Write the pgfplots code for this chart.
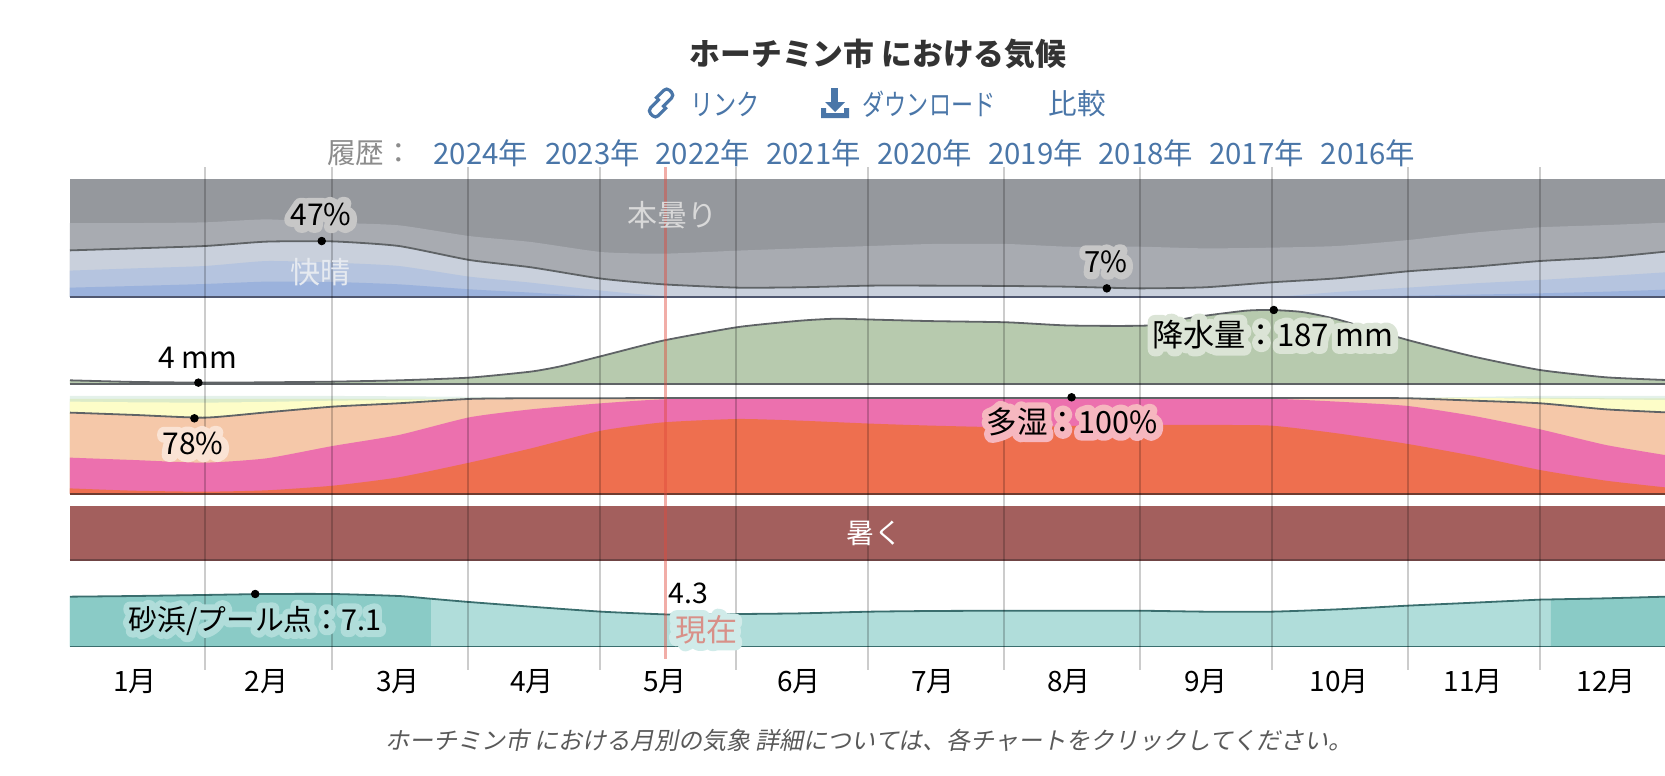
\documentclass[border=0pt]{standalone}
\usepackage{fontspec}
\usepackage{graphicx}
\setmainfont{Noto Sans CJK JP}
\newfontfamily\capfont[FakeSlant=0.2]{Noto Sans CJK JP}
\usepackage{pgfplots}
\usepackage{pgfplotstable}
\pgfplotsset{compat=1.18}

\definecolor{overcast}{HTML}{95989D}
\definecolor{mcloudy}{HTML}{A8ABB1}
\definecolor{pcloudy}{HTML}{C9D0DC}
\definecolor{mclear}{HTML}{B5C4DF}
\definecolor{clear}{HTML}{9BB2DC}
\definecolor{cloudbase}{HTML}{505870}
\definecolor{rainfill}{HTML}{B7CAAE}
\definecolor{misery}{HTML}{EE6F4F}
\definecolor{oppress}{HTML}{EC70AE}
\definecolor{muggy}{HTML}{F5C8A9}
\definecolor{comfy}{HTML}{FDFDC8}
\definecolor{dryish}{HTML}{DCEBC8}
\definecolor{dry}{HTML}{E4F1EA}
\definecolor{humidbase}{HTML}{703C30}
\definecolor{hot}{HTML}{A35F5D}
\definecolor{hotbase}{HTML}{6F4444}
\definecolor{beachhi}{HTML}{8ACBC6}
\definecolor{beachlo}{HTML}{B0DDDA}
\definecolor{beachline}{HTML}{3A6E6E}
\definecolor{linkblue}{HTML}{4A76A8}
\definecolor{curve}{HTML}{5F6366}
\definecolor{nowred}{HTML}{E04A3C}
\definecolor{nowtext}{HTML}{D89088}
\definecolor{clearword}{HTML}{E6EAF0}

% day of year, then the upper edge of each band
\pgfplotstableread{
d     clear mclr  line top
0.36  7.9   22.3  39.4 62.5
15    9.3   24.2  41.1 62.5
31    11.0  26.2  43.1 63.1
45    13.0  30.4  46.8 65.6
60    12.7  29.0  47.0 62.8
75    10.7  26.2  43.1 60.6
91    6.5   17.2  31.3 51.5
105   3.7   12.1  25.1 46.5
121   0.3   5.4   15.5 38.0
135   0     0.8   10.7 36.6
152   0     0     7.9  39.2
166   0     0     8.2  41.1
182   0     0     9.6  43.1
196   0     0     9.6  44.8
213   0     0     9.3  44.8
227   0     0     8.7  42.5
243   0     0     7.3  42.5
258   0     0     8.2  41.1
273   0     0     12.4 41.7
288   0     4.2   15.8 43.1
304   1.1   7.9   21.7 48.1
319   2.0   11.5  25.6 54.4
334   3.1   14.4  30.4 58.9
349   4.5   17.7  33.5 60.8
362.4 6.2   20.8  38.3 62.8
}\cloud

\pgfplotstableread{
d     mm
0.36  10.0
15    5.9
31    4.2
45    5.0
60    6.7
75    10.0
91    16.8
105   32.0
112   46.0
121   71.0
135   110.0
152   144.0
166   160.0
174   165.0
182   163.0
196   159.0
213   156.0
227   148.0
245   148.0
255   168.0
267   185.0
273   187.0
280   182.0
288   163.5
304   111.5
319   69.6
334   36.0
349   17.6
362.4 10.9
}\rain

\pgfplotstableread{
d     misery opp   line  comfy dryish dry
0.36  5.5    37.4  84.1  95.5  98.3   101.4
15    3.1    34.9  81.7  94.8  98.3   101.4
31    2.1    32.2  78.9  94.5  98.3   101.4
45    3.5    36.7  84.4  95.2  98.3   101.4
60    8.3    49.5  90.3  96.5  98.3   101.4
75    17.0   60.9  93.8  97.2  98.3   101.0
91    32.2   79.2  98.3  98.6  98.6   100.5
105   47.0   87.5  99.0  99.2  99.2   99.5
121   65.4   93.8  99.0  99.2  99.2   99.5
135   74.0   97.9  99.3  99.3  99.3   99.5
152   77.5   98.6  99.3  99.3  99.3   99.5
166   75.8   98.6  99.3  99.3  99.3   99.5
182   72.7   98.6  99.3  99.3  99.3   99.5
196   70.6   98.6  99.3  99.3  99.3   99.5
213   68.9   98.6  99.3  99.3  99.3   99.5
227   70.2   98.6  99.3  99.3  99.3   99.5
243   71.3   98.6  99.3  99.3  99.3   99.5
258   71.3   98.6  99.3  99.3  99.3   99.5
273   70.6   98.6  99.3  99.3  99.3   99.5
288   62.6   95.5  99.3  99.3  99.3   99.5
304   51.6   91.0  99.0  99.2  99.3   99.5
319   39.1   80.6  96.5  99.3  99.5   100.5
334   24.6   66.8  93.8  98.6  99.5   101.4
349   13.5   50.5  87.5  97.9  99.0   101.4
362.4 6.6    40.1  84.4  97.2  98.8   101.4
}\humid

\pgfplotstableread{
d     score
0.36  6.74
15    6.83
31    6.97
45    7.10
60    7.10
75    6.83
82.3  6.46
91    6.02
105   5.39
121   4.72
135   4.36
141   4.31
152   4.40
166   4.49
182   4.72
196   4.81
213   4.85
227   4.85
243   4.85
258   4.72
273   4.72
288   5.03
304   5.53
319   5.93
334   6.34
336.5 6.37
349   6.52
362.4 6.74
}\beach

\pgfplotsset{
  panel/.style={
    scale only axis, hide axis, clip=false,
    width=797.5pt, xmin=0.36, xmax=362.4,
    anchor=south west,
  },
  dot/.style={only marks, mark=*, mark size=1.9pt, mark options={fill=black, draw=black}},
  curveline/.style={draw=curve, line width=0.9pt, smooth, tension=0.35},
  band/.style={draw=none, fill=#1, smooth, tension=0.35},
}

% text over a thick copy of itself, round joins so the copy has no spikes
\newcommand{\halo}[3][black]{\special{pdf:code 1 j 1 J}\makebox[0pt][c]{\addfontfeature{FakeBold=45}\color{#2}#3}\special{pdf:code 0 j 0 J}\makebox[0pt][c]{\color{#1}#3}}
\newcommand{\fs}[1]{\fontsize{#1}{#1}\selectfont}

\begin{document}
\begin{tikzpicture}[x=1pt,y=1pt]
\useasboundingbox (0,0) rectangle (832.5,388);

% cloud cover
\begin{axis}[panel, at={(35pt,239.5pt)}, height=59.15pt, ymin=0, ymax=100]
  \addplot[draw=none, fill=overcast] coordinates {(0.36,100)(362.4,100)} \closedcycle;
  \addplot[band=mcloudy] table[x=d,y=top]{\cloud} \closedcycle;
  \addplot[band=pcloudy] table[x=d,y=line]{\cloud} \closedcycle;
  \addplot[band=mclear] table[x=d,y=mclr]{\cloud} \closedcycle;
  \addplot[band=clear] table[x=d,y=clear]{\cloud} \closedcycle;
  \addplot[curveline] table[x=d,y=line]{\cloud};
  \addplot[draw=cloudbase, line width=0.9pt] coordinates {(0.36,0)(362.4,0)};
  \addplot[dot] coordinates {(57.5,47.3)(235.7,7.3)};
\end{axis}

% precipitation
\begin{axis}[panel, at={(35pt,195.85pt)}, height=37.15pt, ymin=0, ymax=187]
  \addplot[band=rainfill] table[x=d,y=mm]{\rain} \closedcycle;
  \addplot[curveline] table[x=d,y=mm]{\rain};
  \addplot[draw=curve, line width=0.9pt] coordinates {(0.36,0)(362.4,0)};
  \addplot[dot] coordinates {(29.5,4.2)(273.6,187)};
\end{axis}

% humidity
\begin{axis}[panel, at={(35pt,141.15pt)}, height=48.2pt, ymin=0, ymax=100]
  \addplot[band=dry] table[x=d,y=dry]{\humid} \closedcycle;
  \addplot[band=dryish] table[x=d,y=dryish]{\humid} \closedcycle;
  \addplot[band=comfy] table[x=d,y=comfy]{\humid} \closedcycle;
  \addplot[band=muggy] table[x=d,y=line]{\humid} \closedcycle;
  \addplot[band=oppress] table[x=d,y=opp]{\humid} \closedcycle;
  \addplot[band=misery] table[x=d,y=misery]{\humid} \closedcycle;
  \addplot[curveline] table[x=d,y=line]{\humid};
  \addplot[draw=humidbase, line width=0.9pt] coordinates {(0.36,0)(362.4,0)};
  \addplot[dot] coordinates {(28.6,78.2)(227.7,100)};
\end{axis}

% temperature
\begin{axis}[panel, at={(35pt,108pt)}, height=27pt, ymin=0, ymax=1]
  \addplot[draw=none, fill=hot] coordinates {(0.36,1)(362.4,1)} \closedcycle;
  \addplot[draw=hotbase, line width=0.8pt] coordinates {(0.36,0)(362.4,0)};
\end{axis}

% beach and pool score
\begin{axis}[panel, at={(35pt,64.65pt)}, height=26.35pt, ymin=0, ymax=7.1]
  \addplot[band=beachlo] table[x=d,y=score]{\beach} \closedcycle;
  \addplot[band=beachhi] table[x=d,y=score, restrict x to domain=0:82.3]{\beach} \closedcycle;
  \addplot[band=beachhi] table[x=d,y=score, restrict x to domain=336.5:363]{\beach} \closedcycle;
  \addplot[draw=beachline, line width=0.9pt, smooth, tension=0.35] table[x=d,y=score]{\beach};
  \addplot[draw=beachline, line width=0.8pt] coordinates {(0.36,0)(362.4,0)};
  \addplot[dot] coordinates {(42.4,7.1)(141,4.31)};
\end{axis}

% month rules and all text, in reference pixels
\begin{axis}[
  at={(0pt,0pt)}, anchor=south west, scale only axis, hide axis, clip=false,
  width=832.5pt, height=388pt,
  xmin=0, xmax=1665, ymin=0, ymax=776, y dir=reverse,
  every node/.append style={inner sep=0pt, outer sep=0pt},
]
  \pgfplotsinvokeforeach{205,332,468,600,736,868,1004,1140,1272,1408,1540}{
    \addplot[draw=black, opacity=0.2, line width=1.3pt] coordinates {(#1,167)(#1,670)};
  }
  \addplot[draw=nowred, opacity=0.45, line width=1.3pt] coordinates {(665.7,167)(665.7,659)};

  \node[font=\fs{15.4}\bfseries, text=black!80] at (axis cs:878,54) {ホーチミン市 における気候};
  \node[font=\fs{14.5}, text=linkblue] at (axis cs:725,104) {\scalebox{0.8}[1]{リンク}};
  \node[font=\fs{14.5}, text=linkblue] at (axis cs:929,104) {\scalebox{0.76}[1]{ダウンロード}};
  \node[font=\fs{14.3}, text=linkblue] at (axis cs:1077,104) {比較};
  \node[font=\fs{14.3}, text=black!45] at (axis cs:370,153) {履歴：};
  \foreach \yr/\xx in {2024/481,2023/592.6,2022/703,2021/813.6,2020/925,2019/1035.5,2018/1146,2017/1256.5,2016/1368}{
    \edef\tmp{\noexpand\node[font=\noexpand\fs{14.7}, text=linkblue] at (axis cs:\xx,153) {\yr 年};}
    \tmp
  }

  % link and download icons
  \draw[linkblue, line width=1.6pt, rounded corners=2pt]
    (axis cs:662.4,107.2) -- (axis cs:674.4,95.2) -- (axis cs:666.7,87.4) -- (axis cs:655.3,98.8);
  \draw[linkblue, line width=1.6pt, rounded corners=2pt]
    (axis cs:659.6,98.8) -- (axis cs:647.7,110.8) -- (axis cs:655.4,118.6) -- (axis cs:666.7,107.2);
  \fill[linkblue] (axis cs:831,88) rectangle (axis cs:838,103);
  \fill[linkblue] (axis cs:825,102) -- (axis cs:845,102) -- (axis cs:835,112) -- cycle;
  \fill[linkblue] (axis cs:821,108) -- (axis cs:826,108) -- (axis cs:826,113) -- (axis cs:844,113)
    -- (axis cs:844,108) -- (axis cs:849,108) -- (axis cs:849,118) -- (axis cs:821,118) -- cycle;

  \node[font=\fs{15}] at (axis cs:321,215) {\halo{black!22}{47\%}};
  \node[font=\fs{15}, text=clearword] at (axis cs:320,272) {快晴};
  \node[font=\fs{15}, text=white!85!black] at (axis cs:672.5,215) {本曇り};
  \node[font=\fs{14.6}] at (axis cs:1106,262) {\halo{black!22}{7\%}};
  \node[font=\fs{15}] at (axis cs:198,358) {4 mm};
  \node[font=\fs{15.6}] at (axis cs:1273,335) {\halo{rainfill!50!white}{降水量：187 mm}};
  \node[font=\fs{15}] at (axis cs:193,444) {\halo{muggy!50!white}{78\%}};
  \node[font=\fs{15.3}] at (axis cs:1072,422) {\halo{misery!50!oppress!50!white}{多湿：100\%}};
  \node[font=\fs{14}, text=white] at (axis cs:874,533) {暑く};
  \node[font=\fs{14.4}] at (axis cs:255,621) {\halo{beachlo}{砂浜/プール点：7.1}};
  \node[font=\fs{14.2}] at (axis cs:688.6,593) {4.3};
  \node[font=\fs{15.5}] at (axis cs:706,630) {\halo[nowtext]{beachlo!60!white}{現在}};

  \foreach \lab/\xx in {1/135,2/266.6,3/398,4/532,5/665,6/799,7/933,8/1069,9/1206,10/1339,11/1473,12/1606}{
    \edef\tmp{\noexpand\node[font=\noexpand\fs{14}, text=black] at (axis cs:\xx,682) {\lab 月};}
    \tmp
  }
  \node[font=\capfont\fs{12}, text=black!65] at (axis cs:869,740) {ホーチミン市 における月別の気象 詳細については、各チャートをクリックしてください。};
\end{axis}
\end{tikzpicture}
\end{document}
